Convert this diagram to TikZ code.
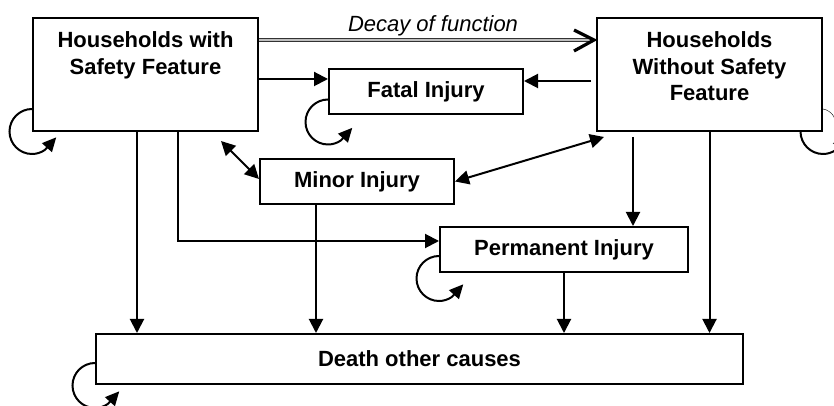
\documentclass[tikz,border=0pt]{standalone}
\usepackage{fontspec}
\setmainfont{Liberation Sans}
\usetikzlibrary{arrows.meta, positioning, backgrounds}

\tikzset{
  selfloop/.pic={
    \draw[line width=2pt, -{Triangle[length=14pt,width=13pt]}] (0,0) arc[start angle=90, end angle=305, radius=22.5pt] -- ++(48:17pt);
  }
}

\begin{document}
\begin{tikzpicture}[x=1pt, y=1pt, line width=2pt,
    every node/.style={font=\fontsize{22}{26.5}\selectfont\bfseries},
    box/.style={draw, fill=white, inner sep=0pt},
    arr/.style={-{Triangle[length=14pt,width=14pt]}},
    darr/.style={{Triangle[length=14pt,width=14pt]}-{Triangle[length=14pt,width=14pt]}}]
  \useasboundingbox (0,0) rectangle (834,406);

  % states
  \node[box, minimum width=225pt, minimum height=113pt] at (145.5,331.5) (hws) {};
  \node[box, minimum width=225pt, minimum height=113pt] at (709.5,331.5) (hwo) {};
  \node[box, minimum width=194pt, minimum height=45pt] at (426,314.5) (fatal) {Fatal Injury};
  \node[box, minimum width=194pt, minimum height=45pt] at (357,224.5) (minor) {Minor Injury};
  \node[box, minimum width=248pt, minimum height=45pt] at (564,156.5) (perm) {Permanent Injury};
  \node[box, minimum width=647pt, minimum height=50pt] at (419.5,47) (death) {Death other causes};

  \node[anchor=north, align=center, inner sep=0pt] at ([yshift=-14pt]hws.north) (hwslbl) {Households with\\Safety Feature};
  \node[anchor=north, align=center, inner sep=0pt] at ([yshift=-14pt]hwo.north) (hwolbl) {Households\\Without Safety\\Feature};

  % decay of function
  \coordinate (dstart) at ([yshift=-23pt]hws.north east);
  \coordinate (dend) at ([yshift=-23pt]hwo.north west);
  \draw[line width=1.1pt, draw=black!80, double=white!75!black, double distance=1.4pt, shorten >=3pt] (dstart) -- (dend);
  \draw[line width=3.2pt] ([shift={(-22pt,10pt)}]dend) -- ([xshift=-2pt]dend) -- ([shift={(-22pt,-11pt)}]dend);
  \node[anchor=base, font=\fontsize{22}{26.5}\selectfont\mdseries\itshape] at (433,374.3) (decaylbl) {Decay of function};

  % transitions
  \coordinate (f1) at ([yshift=12.5pt]fatal.west);
  \coordinate (f2) at ([yshift=10.5pt]fatal.east);
  \coordinate (o2) at ([xshift=-5pt]hwo.west);
  \draw[arr] (hws.east |- f1) -- (f1);
  \draw[arr] (o2 |- f2) -- (f2);

  \draw[darr] ([shift={(-38pt,-9pt)}]hws.south east) -- ([yshift=-21pt]minor.north west);
  \draw[darr] (minor.east) -- ([shift={(8pt,-5pt)}]hwo.south west);

  \coordinate (s1) at ([xshift=-8.5pt]hws.south);
  \coordinate (s2) at ([xshift=32.5pt]hws.south);
  \coordinate (m1) at ([xshift=-41pt]minor.south);
  \coordinate (w1) at ([shift={(-76.5pt,-5pt)}]hwo.south);
  \draw[arr] (s1) -- (s1 |- death.north);
  \draw[arr] (s2) |- ([yshift=8.5pt]perm.west);
  \draw[arr] (m1) -- (m1 |- death.north);
  \draw[arr] (w1) -- (w1 |- perm.north);
  \draw[arr] (hwo.south) -- (hwo.south |- death.north);
  \draw[arr] (perm.south) -- (perm.south |- death.north);

  % staying in the same state
  \begin{scope}[on background layer]
    \pic at ([yshift=23pt]hws.south west) {selfloop};
    \pic at ([yshift=15.5pt]fatal.south west) {selfloop};
    \pic at ([yshift=17pt]perm.south west) {selfloop};
    \pic at ([yshift=22pt]death.south west) {selfloop};
    \pic at ([yshift=23pt]hwo.south east) {selfloop};
    \draw ([yshift=23pt]hwo.south east) arc[start angle=80, end angle=-10, radius=15.5pt];
  \end{scope}
\end{tikzpicture}
\end{document}
